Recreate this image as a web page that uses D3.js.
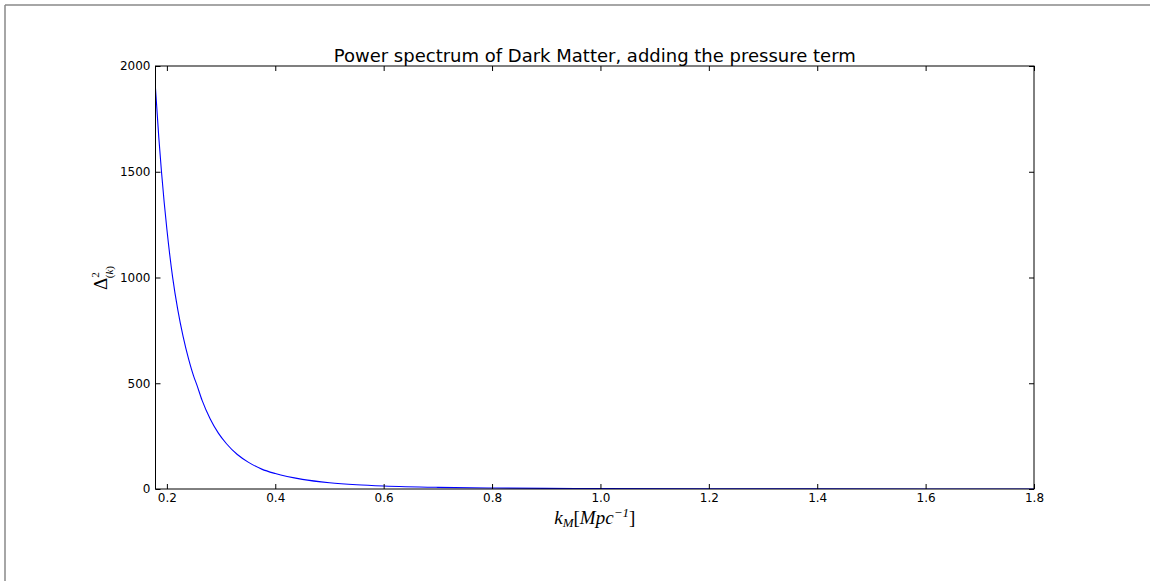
<!DOCTYPE html>
<html><head><meta charset="utf-8">
<script src="https://cdn.jsdelivr.net/npm/d3@7"></script>
<style>
body{margin:0;background:#fff;}
svg{display:block;font-family:"DejaVu Sans",sans-serif;}
</style></head>
<body>
<script>
const kValues = [0.179,0.185,0.190,0.195,0.200,0.2105,0.220,0.230,0.240,0.250,0.2548,0.265,0.280,0.295,0.310,0.330,0.350,0.375,0.400,0.450,0.500,0.550,0.600,0.700,0.800,0.900,1.000,1.200,1.400,1.600,1.800];
const powerValues = [1894,1665,1501,1356,1228,1003,849,720,615,529,496,419,331,264,214,163,127,94,73,45.6,29.9,20.4,14.4,7.8,4.6,2.9,1.9,0.9,0.49,0.29,0.18];
const xTicks = [0.2,0.4,0.6,0.8,1.0,1.2,1.4,1.6,1.8];
const yTicks = [0,500,1000,1500,2000];
const titleText = "Power spectrum of Dark Matter, adding the pressure term";

const W=1150,H=581;
const m={left:155.5,right:1034,top:66,bottom:489};
const svg=d3.select("body").append("svg").attr("width",W).attr("height",H);

// outer frame (top & left)
svg.append("line").attr("x1",5).attr("y1",5).attr("x2",W).attr("y2",5).attr("stroke","#888").attr("stroke-width",1.5);
svg.append("line").attr("x1",5).attr("y1",5).attr("x2",5).attr("y2",H).attr("stroke","#888").attr("stroke-width",1.5);

const x=d3.scaleLinear().domain([0.179,1.8]).range([m.left,m.right]);
const y=d3.scaleLinear().domain([0,2000]).range([m.bottom,m.top]);

svg.append("defs").append("clipPath").attr("id","clip").append("rect")
  .attr("x",m.left).attr("y",m.top).attr("width",m.right-m.left).attr("height",m.bottom-m.top);

const data=kValues.map((k,i)=>({k,v:powerValues[i]}));
svg.append("path").datum(data).attr("clip-path","url(#clip)")
  .attr("fill","none").attr("stroke","#0000ff").attr("stroke-width",1.1)
  .attr("d",d3.line().x(d=>x(d.k)).y(d=>y(d.v)).curve(d3.curveMonotoneX));

function style(g){g.select(".domain").remove();g.selectAll("line").attr("stroke","#000");g.selectAll("text").attr("font-family","DejaVu Sans").attr("font-size",12).attr("fill","#000");}

const fmtX=d3.format(".1f");
svg.append("g").attr("transform",`translate(0,${m.bottom})`)
  .call(d3.axisBottom(x).tickValues(xTicks).tickFormat(fmtX).tickSize(-5).tickPadding(4)).call(style);
svg.append("g").attr("transform",`translate(0,${m.top})`)
  .call(d3.axisTop(x).tickValues(xTicks).tickFormat("").tickSize(-5)).call(style);
svg.append("g").attr("transform",`translate(${m.left},0)`)
  .call(d3.axisLeft(y).tickValues(yTicks).tickFormat(d3.format("d")).tickSize(-5).tickPadding(5)).call(style);
svg.append("g").attr("transform",`translate(${m.right},0)`)
  .call(d3.axisRight(y).tickValues(yTicks).tickFormat("").tickSize(-5)).call(style);

svg.append("rect").attr("x",m.left).attr("y",m.top).attr("width",m.right-m.left).attr("height",m.bottom-m.top)
  .attr("fill","none").attr("stroke","#000").attr("stroke-width",1);

svg.append("text").attr("x",(m.left+m.right)/2).attr("y",61.5).attr("text-anchor","middle")
  .attr("font-size",18).attr("font-family","DejaVu Sans").text(titleText);

// x label k_M[Mpc^{-1}]
const xl=svg.append("text").attr("x",(m.left+m.right)/2).attr("y",524).attr("text-anchor","middle")
  .attr("font-family","Liberation Serif").attr("font-style","italic").attr("font-size",19);
xl.append("tspan").text("k");
xl.append("tspan").attr("font-size",13).attr("dy",3).text("M");
xl.append("tspan").attr("dy",-3).attr("font-style","normal").text("[");
xl.append("tspan").text("Mpc");
xl.append("tspan").attr("font-size",13).attr("dy",-7).text("−1");
xl.append("tspan").attr("dy",7).attr("font-style","normal").text("]");

// y label Δ^2_(k)
const yl=svg.append("text").attr("transform","translate(107,278) rotate(-90)").attr("text-anchor","middle")
  .attr("font-family","Liberation Serif").attr("font-size",19);
yl.append("tspan").text("Δ");
yl.append("tspan").attr("font-size",11).attr("dy",-8).text("2");
yl.append("tspan").attr("font-size",11).attr("dx",-6).attr("dy",14).text("(");
yl.append("tspan").attr("font-size",11).attr("font-style","italic").text("k");
yl.append("tspan").attr("font-size",11).text(")");
</script>
</body></html>
